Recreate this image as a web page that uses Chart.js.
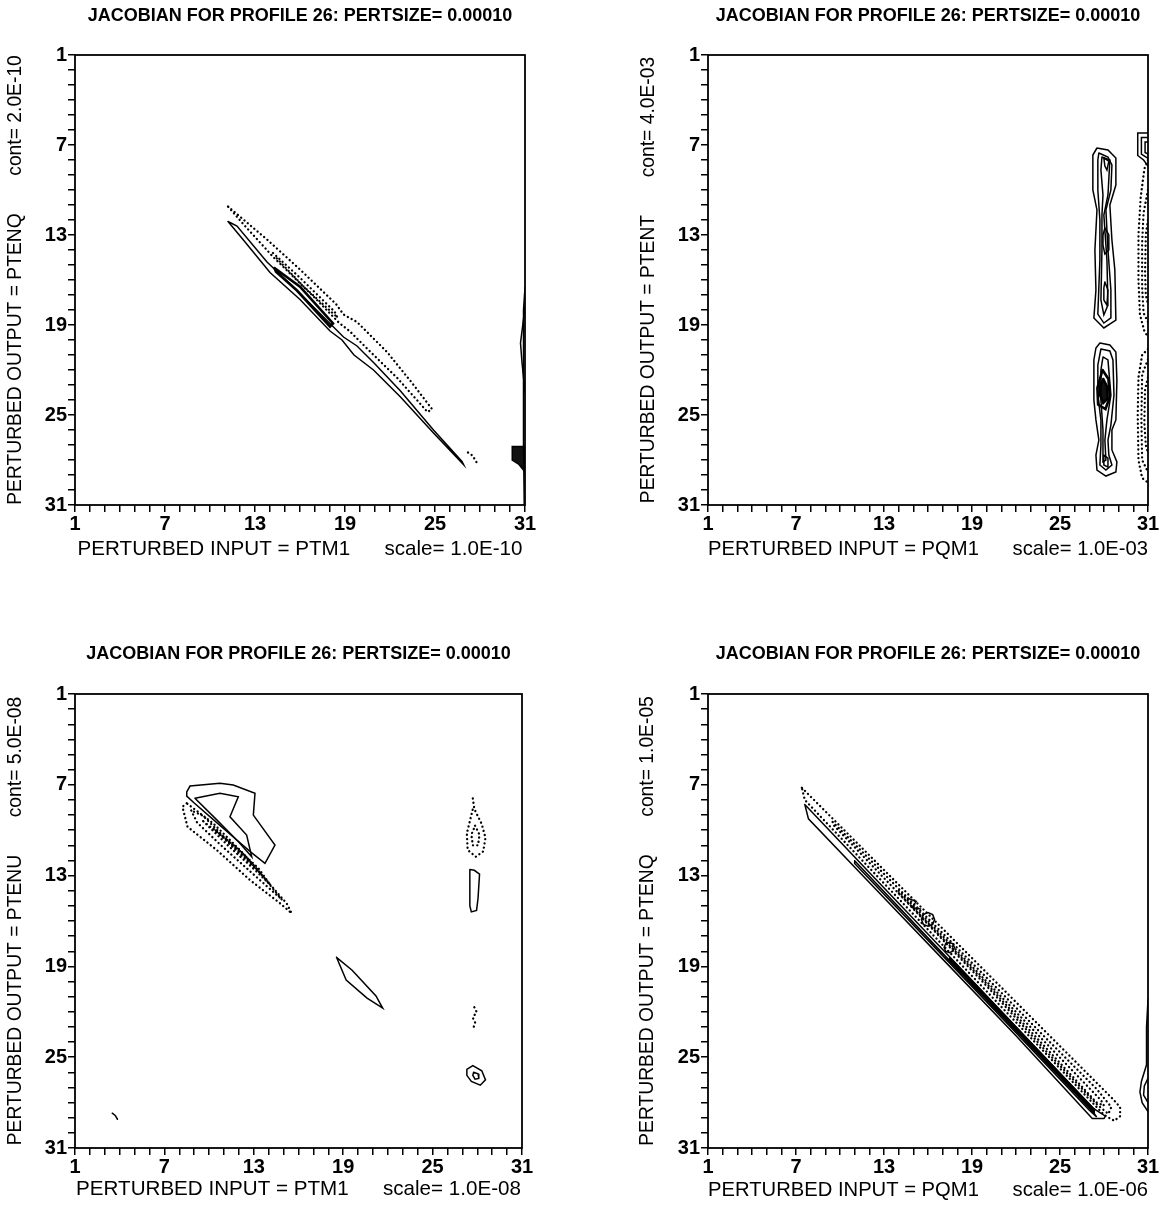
<!DOCTYPE html>
<html>
<head>
<meta charset="utf-8">
<script src="https://cdn.jsdelivr.net/npm/chart.js@4.4.0/dist/chart.umd.min.js"></script>
<style>
  html, body { margin: 0; padding: 0; background: #fff; overflow: hidden; }
  #page { position: relative; width: 1163px; height: 1207px; overflow: hidden; background: #fff; }
  canvas { position: absolute; }
</style>
</head>
<body>
<div id="page">
  <canvas id="c1"></canvas>
  <canvas id="c2"></canvas>
  <canvas id="c3"></canvas>
  <canvas id="c4"></canvas>
</div>
<script>
// ---- axis / label data ----
const gridLevels = [1, 7, 13, 19, 25, 31];   // labelled levels, ticks at every integer
const panelTitle = 'JACOBIAN FOR PROFILE 26: PERTSIZE= 0.00010';
const inputNames = ['PTM1', 'PQM1', 'PTM1', 'PQM1'];
const outputNames = ['PTENQ', 'PTENT', 'PTENU', 'PTENQ'];
const contLabels = ['2.0E-10', '4.0E-03', '5.0E-08', '1.0E-05'];
const scaleLabels = ['1.0E-10', '1.0E-03', '1.0E-08', '1.0E-06'];

// ---- contour lines, [input level, output level] ----
// panel 1: PTENQ vs PTM1
const p1SolidOuter = [[11.2,12.1],[12.2,13.3],[14.0,15.5],[16.0,17.3],[18.0,19.4],[18.8,20.0],[19.6,21.0],[20.9,22.0],[22.7,23.8],[24.9,26.2],[26.9,28.3],[26.8,28.1],[24.9,26.0],[22.7,23.4],[21.0,21.6],[19.8,20.4],[18.9,19.8],[18.2,19.1],[16.0,16.9],[13.8,14.8],[11.8,12.4],[11.2,12.1]];
const p1SolidInner = [[14.3,15.2],[16.0,16.45],[18.2,18.9],[18.0,19.1],[15.8,16.7],[14.4,15.45],[14.3,15.2]];
const p1DotOuter = [[11.2,11.1],[13.8,13.3],[16.0,15.3],[18.4,17.6],[18.9,18.3],[19.8,18.8],[21.8,20.8],[23.5,22.9],[24.8,24.6],[24.5,24.8],[22.5,22.55],[20.5,20.6],[19.3,19.4],[18.6,18.85],[17.0,17.2],[14.2,14.45],[12.2,12.25],[11.2,11.1]];
const p1DotInner = [[14.2,14.2],[16.0,15.85],[18.3,18.1],[18.5,18.5],[16.2,16.4],[14.3,14.4]];
const p1DotTip = [[27.2,27.5],[27.5,27.7],[27.8,28.2]];
const p1EdgeLens = [[31,17.8],[30.85,19.0],[30.7,20.2],[30.8,21.5],[31,23.5]];
const p1EdgeLine = [[31,16.5],[30.9,18.0],[30.88,24.0],[30.92,27.0],[30.95,31]];
const p1BlockA = [[31,27.1],[30.15,27.1],[30.15,28.0],[30.6,28.3],[31,28.8],[31,27.1]];
const p1BlockB = [[31,27.3],[30.35,27.3],[30.35,27.95],[31,28.45]];
const p1BlockC = [[31,27.5],[30.55,27.5],[30.55,27.85],[31,28.15]];

// panel 2: PTENT vs PQM1
const p2UpOuter = [[27.52,7.2],[28.27,7.33],[28.81,7.87],[28.81,9.67],[28.4,11.0],[28.54,13.33],[28.74,15.33],[28.81,18.67],[27.99,19.2],[27.31,18.53],[27.45,16.67],[27.38,14.0],[27.52,11.33],[27.24,10.0],[27.24,7.67],[27.52,7.2]];
const p2UpMid = [[27.65,7.53],[28.27,7.8],[28.54,8.33],[28.47,10.0],[28.13,11.33],[28.27,14.0],[28.47,16.67],[28.47,18.53],[27.99,18.87],[27.58,18.27],[27.72,14.67],[27.72,12.0],[27.58,10.0],[27.58,8.0],[27.65,7.53]];
const p2UpInner = [[27.86,7.8],[28.4,8.0],[28.27,10.33],[27.99,11.67],[28.2,14.67],[28.27,17.67],[27.99,18.33],[27.79,17.33],[27.86,14.0],[27.86,11.67],[27.93,10.33],[27.79,8.67],[27.86,7.8]];
const p2UpCoreA = [[27.99,7.87],[28.33,8.07],[28.2,8.67],[28.06,8.4],[27.99,7.87]];
const p2UpCoreB = [[28.06,12.53],[28.33,13.0],[28.33,14.0],[28.06,14.27],[27.93,13.67],[27.93,13.0],[28.06,12.53]];
const p2UpCoreC = [[28.06,16.13],[28.27,16.67],[28.2,17.67],[27.99,17.33],[27.99,16.53],[28.06,16.13]];
const p2LoOuter = [[27.72,20.2],[28.4,20.33],[28.81,20.8],[28.88,22.67],[28.81,25.33],[28.54,26.0],[28.54,27.33],[28.88,28.13],[28.81,28.8],[28.13,29.07],[27.52,28.67],[27.45,27.67],[27.65,26.67],[27.45,25.33],[27.31,24.0],[27.31,21.33],[27.45,20.53],[27.72,20.2]];
const p2LoMid = [[27.79,20.6],[28.4,20.73],[28.61,21.33],[28.68,23.67],[28.47,25.67],[28.27,26.67],[28.33,27.67],[28.54,28.33],[28.13,28.67],[27.72,28.33],[27.79,27.0],[27.79,25.33],[27.58,23.67],[27.58,21.67],[27.79,20.6]];
const p2LoInner = [[27.93,21.13],[28.27,21.33],[28.47,23.67],[28.2,25.33],[28.06,26.67],[28.13,28.0],[27.93,28.13],[27.93,26.0],[27.79,24.0],[27.79,22.0],[27.93,21.13]];
const p2LoCoreA = [[27.9,22.0],[28.3,22.6],[28.4,23.8],[28.1,24.6],[27.6,24.3],[27.55,23.2],[27.9,22.0]];
const p2LoCoreB = [[27.95,22.6],[28.2,23.1],[28.25,23.9],[27.95,24.2],[27.7,23.6],[27.75,23.0],[27.95,22.6]];
const p2LoCoreC = [[27.95,23.1],[28.1,23.5],[27.95,23.9],[27.8,23.5],[27.95,23.1]];
const p2LoCoreD = [[27.99,27.67],[28.27,27.87],[28.27,28.47],[27.99,28.33],[27.99,27.67]];
const p2EdgeBoxA = [[31,6.2],[30.3,6.2],[30.3,7.7],[30.7,8.0],[31,8.4]];
const p2EdgeBoxB = [[31,6.5],[30.55,6.5],[30.55,7.6],[31,7.9]];
const p2EdgeBoxC = [[31,6.8],[30.8,6.8],[30.8,7.5],[31,7.6]];
const p2EdgeDotA = [[31,8.0],[30.75,8.6],[30.5,10.5],[30.35,13.0],[30.35,16.0],[30.45,18.3],[30.75,19.4],[31,19.8]];
const p2EdgeDotB = [[31,10.0],[30.7,11.5],[30.6,13.5],[30.6,16.5],[30.7,18.2],[31,18.8]];
const p2EdgeDotC = [[31,12.0],[30.85,13.0],[30.8,15.5],[30.85,17.0],[31,17.6]];
const p2EdgeDotD = [[31,20.6],[30.6,21.0],[30.35,22.5],[30.3,25.0],[30.35,28.0],[30.6,29.2],[31,29.5]];
const p2EdgeDotE = [[31,21.3],[30.6,22.3],[30.55,25.3],[30.6,28.0],[31,28.8]];
const p2EdgeDotF = [[31,22.5],[30.8,23.3],[30.75,25.5],[30.85,27.0],[31,27.5]];

// panel 3: PTENU vs PTM1
const p3HookOuter = [[8.5,7.46],[8.72,7.08],[10.73,6.9],[11.62,7.01],[13.08,7.56],[12.97,9.0],[14.42,10.98],[13.75,12.19],[12.8,11.45],[11.8,10.6],[10.4,9.4],[9.0,8.2],[8.5,7.75],[8.5,7.46]];
const p3HookInner = [[9.05,7.89],[10.73,7.56],[11.96,7.79],[11.4,9.11],[12.52,10.32],[12.86,11.75],[12.0,10.8],[10.5,9.3],[9.05,7.89]];
const p3DotOuter = [[8.5,8.22],[8.21,8.45],[8.55,9.77],[10.51,11.31],[12.74,13.29],[14.76,14.83],[15.54,15.49],[15.2,14.83],[13.64,13.07],[12.07,11.31],[10.28,9.55],[8.94,8.55],[8.5,8.22]];
const p3DotMid = [[8.8,8.7],[9.2,9.5],[10.8,11.0],[12.9,12.85],[14.9,14.6],[14.6,14.25],[13.2,12.55],[11.5,10.95],[9.6,9.05],[8.8,8.7]];
const p3DotInner = [[9.6,9.4],[11.2,10.95],[13.1,12.65],[14.1,13.6],[13.3,12.5],[11.6,10.95],[9.6,9.4]];
const p3DotCore = [[10.3,9.9],[12.2,11.7],[13.5,12.9],[12.3,11.55],[10.3,9.9]];
const p3TearDot = [[27.7,7.9],[27.8,8.6],[28.3,9.6],[28.55,10.5],[28.4,11.4],[27.9,11.75],[27.35,11.3],[27.3,10.2],[27.5,9.4],[27.7,8.6]];
const p3TearDotInner = [[27.85,9.7],[28.15,10.3],[28.05,11.0],[27.7,11.0],[27.6,10.3],[27.85,9.7]];
const p3SlimLoop = [[27.5,12.6],[27.8,12.65],[28.15,12.9],[28.05,14.5],[27.95,15.3],[27.6,15.4],[27.5,15.0],[27.5,13.5],[27.5,12.6]];
const p3Squiggle = [[27.8,21.7],[27.95,22.0],[27.7,22.4],[27.85,22.7],[27.7,23.2]];
const p3EyeOuter = [[27.3,25.8],[27.7,25.55],[28.3,25.9],[28.55,26.5],[28.2,26.85],[27.6,26.6],[27.3,26.2],[27.3,25.8]];
const p3EyeInner = [[27.75,26.0],[28.05,26.1],[28.1,26.4],[27.85,26.45],[27.7,26.2],[27.75,26.0]];
const p3Lens = [[18.55,18.4],[19.6,19.25],[21.2,20.95],[21.65,21.75],[20.6,21.1],[19.2,19.9],[18.55,18.4]];
const p3Tick = [[3.5,28.7],[3.7,28.85],[3.85,29.1]];

// panel 4: PTENQ vs PQM1
const p4DotOuter = [[7.4,7.2],[10,9.72],[14,13.6],[18,17.48],[22,21.36],[26,25.24],[28.6,27.76],[29.1,28.3],[29.1,28.9],[28.7,29.2],[28.0,28.81],[24,24.73],[20,20.65],[16,16.57],[12,12.49],[8.5,8.92],[7.6,8.0],[7.4,7.2]];
const p4DotMid = [[9.5,9.45],[15,14.85],[20,19.75],[24,23.7],[27.5,27.1],[28.5,28.3],[28.3,28.75],[27.5,28.1],[24,24.55],[20,20.3],[15,15.2],[9.5,9.6],[9.5,9.45]];
const p4DotInner = [[14,14.0],[20,20.0],[27.8,27.85],[28.0,28.2],[27.5,28.0],[20,20.15],[14,14.15],[14,14.0]];
const p4SolidOuter = [[7.6,8.3],[12,12.79],[17,17.89],[22,22.99],[27.3,28.4],[28.1,28.9],[28.0,29.05],[27.2,29.05],[22,23.59],[17,18.52],[12,13.46],[7.85,9.25],[7.6,8.3]];
const p4SolidMid = [[11,12.02],[17,18.14],[22,23.24],[27.2,28.55],[27.5,28.95],[27.0,28.5],[22,23.38],[17,18.3],[11,12.2],[11,12.02]];
const p4SolidCore = [[17.5,18.47],[22,23.06],[27.3,28.45],[27.3,28.58],[22,23.16],[17.5,18.57],[17.5,18.47]];
const p4RingA = [[16.45,15.9],[16.32,16.22],[16.0,16.35],[15.68,16.22],[15.55,15.9],[15.68,15.58],[16.0,15.45],[16.32,15.58],[16.45,15.9]];
const p4RingB = [[17.8,17.75],[17.7,18.0],[17.45,18.1],[17.2,18.0],[17.1,17.75],[17.2,17.5],[17.45,17.4],[17.7,17.5],[17.8,17.75]];
const p4Zmark = [[14.6,14.5],[15.2,14.7],[14.9,15.1],[15.5,15.2]];
const p4Edge = [[31,21.2],[30.9,23.0],[30.9,25.5],[30.55,26.6],[30.45,27.3],[30.6,28.0],[31,28.6]];
const p4EdgeInner = [[31,26.4],[30.75,26.9],[30.7,27.5],[31,28.0]];

// ---- drawing ----
const FONT = "'Liberation Sans', Arial, Helvetica, sans-serif";
const SOLID = { dash: [], width: 1.5 };
const HEAVY = { dash: [], width: 2.6 };
const DOTS = { dash: [0.1, 4.2], width: 2.3 };

function line(pts, style, fillShape) {
  return {
    data: pts.map(([x, y]) => ({ x, y })),
    showLine: true,
    pointRadius: 0,
    borderColor: '#000',
    borderWidth: style.width,
    borderDash: style.dash,
    borderCapStyle: 'round',
    backgroundColor: '#111',
    fill: fillShape ? 'shape' : false,
    tension: 0
  };
}

const panels = [
  {
    id: 'c1', left: 0, top: 0, w: 600, h: 580, yW: 75, xH: 75, topH: 55, padR: 75,
    titlePadTop: 5, yTitlePad: 4, xTitlePad: 18,
    sets: [
      line(p1SolidOuter, SOLID), line(p1SolidInner, HEAVY),
      line(p1DotOuter, DOTS), line(p1DotInner, DOTS), line(p1DotTip, DOTS),
      line(p1EdgeLens, SOLID), line(p1EdgeLine, SOLID),
      line(p1BlockA, SOLID, true), line(p1BlockB, SOLID), line(p1BlockC, SOLID)
    ]
  },
  {
    id: 'c2', left: 628, top: 0, w: 600, h: 580, yW: 80, xH: 75, topH: 55, padR: 80,
    titlePadTop: 5, yTitlePad: 9, xTitlePad: 18,
    sets: [
      line(p2UpOuter, SOLID), line(p2UpMid, SOLID), line(p2UpInner, SOLID),
      line(p2UpCoreA, SOLID), line(p2UpCoreB, SOLID), line(p2UpCoreC, SOLID),
      line(p2LoOuter, SOLID), line(p2LoMid, SOLID), line(p2LoInner, SOLID),
      line(p2LoCoreA, HEAVY), line(p2LoCoreB, HEAVY, true), line(p2LoCoreC, HEAVY), line(p2LoCoreD, SOLID),
      line(p2EdgeBoxA, SOLID), line(p2EdgeBoxB, SOLID), line(p2EdgeBoxC, SOLID),
      line(p2EdgeDotA, DOTS), line(p2EdgeDotB, DOTS), line(p2EdgeDotC, DOTS),
      line(p2EdgeDotD, DOTS), line(p2EdgeDotE, DOTS), line(p2EdgeDotF, DOTS)
    ]
  },
  {
    id: 'c3', left: 0, top: 620, w: 600, h: 587, yW: 75, xH: 59, topH: 74, padR: 78,
    titlePadTop: 23, yTitlePad: 4, xTitlePad: 5,
    sets: [
      line(p3HookOuter, SOLID), line(p3HookInner, SOLID),
      line(p3DotOuter, DOTS), line(p3DotMid, DOTS), line(p3DotInner, DOTS), line(p3DotCore, DOTS),
      line(p3TearDot, DOTS), line(p3TearDotInner, DOTS),
      line(p3SlimLoop, SOLID), line(p3Squiggle, DOTS),
      line(p3EyeOuter, SOLID), line(p3EyeInner, SOLID),
      line(p3Lens, SOLID), line(p3Tick, SOLID)
    ]
  },
  {
    id: 'c4', left: 628, top: 620, w: 600, h: 587, yW: 80, xH: 59, topH: 74, padR: 80,
    titlePadTop: 23, yTitlePad: 8, xTitlePad: 4,
    sets: [
      line(p4DotOuter, DOTS), line(p4DotMid, DOTS), line(p4DotInner, DOTS),
      line(p4SolidOuter, SOLID), line(p4SolidMid, SOLID), line(p4SolidCore, HEAVY),
      line(p4RingA, SOLID), line(p4RingB, SOLID), line(p4Zmark, SOLID),
      line(p4Edge, SOLID), line(p4EdgeInner, SOLID)
    ]
  }
];

// frame round the plot area
const frame = {
  id: 'frame',
  afterDraw(chart) {
    const { ctx, chartArea: a } = chart;
    ctx.save();
    ctx.strokeStyle = '#000';
    ctx.lineWidth = 1.8;
    ctx.strokeRect(a.left, a.top, a.right - a.left, a.bottom - a.top);
    ctx.restore();
  }
};

const tickLabel = v => (gridLevels.includes(v) ? String(v) : '');

panels.forEach((p, i) => {
  const cv = document.getElementById(p.id);
  cv.width = p.w;
  cv.height = p.h;
  cv.style.left = p.left + 'px';
  cv.style.top = p.top + 'px';

  const axisGrid = { drawOnChartArea: false, drawTicks: true, tickLength: 7, color: '#000', lineWidth: 1.5 };
  const tickFont = { family: FONT, size: 20, weight: 'bold' };

  new Chart(cv.getContext('2d'), {
    type: 'scatter',
    data: { datasets: p.sets },
    options: {
      responsive: false,
      animation: false,
      events: [],
      layout: { padding: { left: 0, top: 0, right: p.padR, bottom: 0 } },
      plugins: { legend: { display: false }, tooltip: { enabled: false }, title: { display: false } },
      scales: {
        // top axis only carries the panel heading, centred over the plot
        top: {
          type: 'linear', position: 'top', min: 1, max: 31,
          border: { display: false },
          grid: { display: false },
          ticks: { display: false },
          title: {
            display: true, text: panelTitle, color: '#000',
            font: { family: FONT, size: 18, weight: 'bold' },
            padding: { top: p.titlePadTop, bottom: 0 }
          },
          afterFit: s => { s.height = p.topH; }
        },
        x: {
          type: 'linear', position: 'bottom', min: 1, max: 31,
          border: { display: false },
          grid: axisGrid,
          ticks: { stepSize: 1, autoSkip: false, maxRotation: 0, padding: 0, color: '#000', font: tickFont, callback: tickLabel },
          title: {
            display: true,
            text: 'PERTURBED INPUT = ' + inputNames[i] + '      scale= ' + scaleLabels[i],
            color: '#000', font: { family: FONT, size: 20.6 }, padding: { top: 0, bottom: p.xTitlePad }
          },
          afterFit: s => { s.height = p.xH; }
        },
        y: {
          type: 'linear', min: 1, max: 31, reverse: true,
          border: { display: false },
          grid: axisGrid,
          ticks: { stepSize: 1, autoSkip: false, padding: 1, color: '#000', font: tickFont, callback: tickLabel },
          title: {
            display: true,
            text: 'PERTURBED OUTPUT = ' + outputNames[i] + '       cont= ' + contLabels[i],
            color: '#000', font: { family: FONT, size: 19.3 }, padding: { top: p.yTitlePad, bottom: 0 }
          },
          afterFit: s => { s.width = p.yW; }
        }
      }
    },
    plugins: [frame]
  });
});
</script>
</body>
</html>
